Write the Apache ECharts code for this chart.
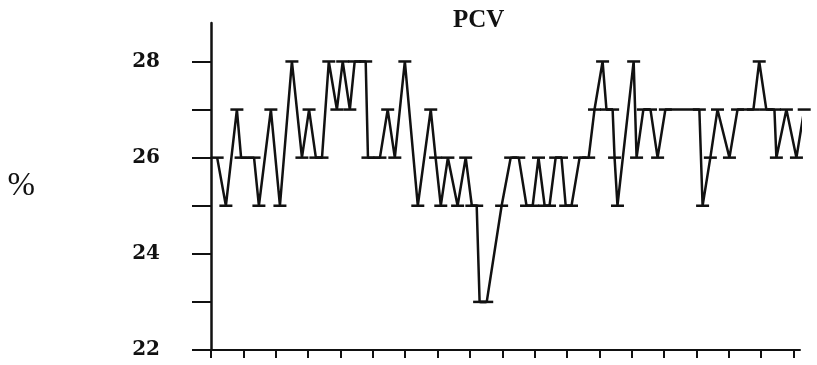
<!DOCTYPE html>
<html>
<head>
<meta charset="utf-8">
<script src="https://cdn.jsdelivr.net/npm/echarts@6/dist/echarts.min.js"></script>
<style>
  html, body { margin: 0; padding: 0; background: #fff; }
  #chart { width: 817px; height: 365px; }
</style>
</head>
<body>
<div id="chart"></div>
<script>
// Sampling time (in x-axis tick units) and PCV readings (%) at each turning point
const sampleTime = [
  0.19, 0.46, 0.80, 0.93, 1.33, 1.48, 1.85, 2.13, 2.50, 2.81,
  3.03, 3.24, 3.43, 3.64, 3.89, 4.07, 4.29, 4.44, 4.78, 4.85,
  5.22, 5.46, 5.68, 5.99, 6.39, 6.79, 6.94, 7.10, 7.32, 7.62,
  7.87, 8.06, 8.21, 8.30, 8.52, 8.98, 9.26, 9.51, 9.75, 9.94,
  10.12, 10.31, 10.46, 10.65, 10.83, 10.96, 11.14, 11.39, 11.67, 11.85,
  12.10, 12.22, 12.41, 12.47, 12.56, 13.06, 13.15, 13.36, 13.58, 13.80,
  14.04, 15.09, 15.19, 15.43, 15.65, 16.02, 16.27, 16.76, 16.94, 17.16,
  17.41, 17.47, 17.78, 18.09, 18.33
];
const pcv = [
  26, 25, 27, 26, 26, 25, 27, 25, 28, 26,
  27, 26, 26, 28, 27, 28, 27, 28, 28, 26,
  26, 27, 26, 28, 25, 27, 26, 25, 26, 25,
  26, 25, 25, 23, 23, 25, 26, 26, 25, 25,
  26, 25, 25, 26, 26, 25, 25, 26, 26, 27,
  28, 27, 27, 26, 25, 28, 26, 27, 27, 26,
  27, 27, 25, 26, 27, 26, 27, 27, 28, 27,
  27, 26, 27, 26, 27
];
const xTicks = [0, 1, 2, 3, 4, 5, 6, 7, 8, 9, 10, 11, 12, 13, 14, 15, 16, 17, 18];
const yTicks = [22, 23, 24, 25, 26, 27, 28];
const yLabels = [22, 24, 26, 28];

const points = sampleTime.map((t, i) => [t, pcv[i]]);
const ink = '#111';

const chart = echarts.init(document.getElementById('chart'), null, { renderer: 'canvas' });
chart.setOption({
  animation: false,
  backgroundColor: '#fff',
  title: {
    text: 'PCV',
    left: 448,
    top: 3,
    textStyle: { fontFamily: 'Liberation Serif', fontWeight: 'bold', fontSize: 25, color: ink }
  },
  grid: { left: 211, right: 17, top: 23, bottom: 15 },
  xAxis: {
    type: 'value',
    min: 0,
    max: 18.2,
    axisLine: { lineStyle: { color: ink, width: 2 } },
    axisTick: { customValues: xTicks, length: 8, lineStyle: { color: ink, width: 2 } },
    axisLabel: { show: false },
    splitLine: { show: false }
  },
  yAxis: {
    type: 'value',
    min: 22,
    max: 28.8,
    name: '%',
    nameLocation: 'middle',
    nameRotate: 0,
    nameGap: 176,
    nameTextStyle: { fontFamily: 'Liberation Serif', fontSize: 33, color: ink },
    axisLine: { show: true, lineStyle: { color: ink, width: 2.5 } },
    axisTick: { show: true, customValues: yTicks, length: 19, lineStyle: { color: ink, width: 2 } },
    axisLabel: {
      customValues: yLabels,
      margin: 51,
      fontFamily: 'DejaVu Serif',
      fontWeight: 'bold',
      fontSize: 20,
      color: ink
    },
    splitLine: { show: false }
  },
  series: [{
    type: 'line',
    data: points,
    clip: false,
    symbol: 'rect',
    symbolSize: [13, 2.5],
    itemStyle: { color: ink },
    lineStyle: { color: ink, width: 2.5 }
  }]
});
</script>
</body>
</html>
